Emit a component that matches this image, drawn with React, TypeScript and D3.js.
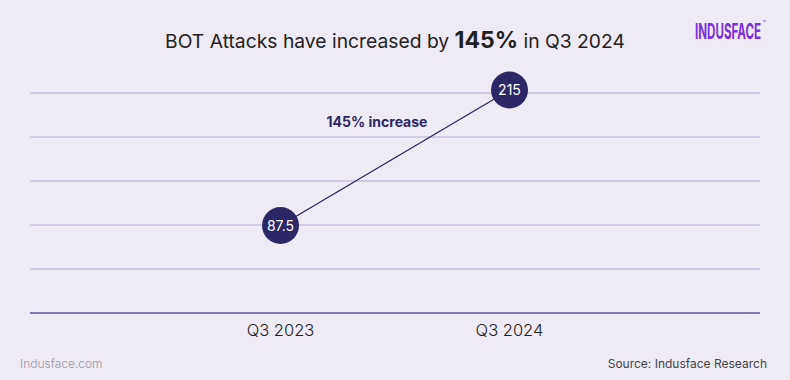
import React from "react";
import * as d3 from "d3";

const categories = ["Q3 2023", "Q3 2024"];
const values = [87.5, 215];
const valueLabels = ["87.5", "215"];
const gridCount = 5;

const W = 790;
const H = 380;
const BG = "#efebf5";
const NAVY = "#2c2766";

export default function App() {
  const left = 30;
  const right = 760;
  const axisY = 313;
  const x = d3.scalePoint<string>().domain(categories).range([left, right]).padding(1.094);
  const y = d3.scaleLinear().domain([87.5, 215]).range([225.5, 90]);
  const gridStep = 44;
  const grid = d3.range(1, gridCount + 1).map((i) => axisY - i * gridStep);
  const line = d3
    .line<number>()
    .x((_, i) => x(categories[i]) as number)
    .y((d) => y(d));
  const logoScale = 0.6;

  return (
    <svg
      width={W}
      height={H}
      style={{ position: "absolute", left: 0, top: 0, background: BG, fontFamily: "Inter, sans-serif" }}
    >
      <rect width={W} height={H} fill={BG} />
      <text x={395} y={48} textAnchor="middle" fontSize={19.3} fill="#222">
        <tspan>BOT Attacks have increased by </tspan>
        <tspan fontWeight={700} fontSize={23}>145%</tspan>
        <tspan> in Q3 2024</tspan>
      </text>
      <g transform={`translate(695,38.5) scale(${logoScale},1)`}>
        <text x={0} y={0} fontSize={21} fontWeight={700} fill="#7b2fe0">
          <tspan textLength={66 / logoScale} lengthAdjust="spacingAndGlyphs">INDUSFACE</tspan>
          <tspan fontSize={8} fontWeight={400} dx={3} dy={-13}>™</tspan>
        </text>
      </g>
      {grid.map((gy, i) => (
        <line key={i} x1={left} x2={right} y1={gy} y2={gy} stroke="#c8bfdf" strokeWidth={1.3} />
      ))}
      <line x1={left} x2={right} y1={axisY} y2={axisY} stroke="#5b5499" strokeWidth={1.5} />
      {categories.map((c) => (
        <text key={c} x={x(c)} y={336} textAnchor="middle" fontSize={16.5} fontWeight={300} fill="#222">
          {c}
        </text>
      ))}
      <path d={line(values) || ""} fill="none" stroke={NAVY} strokeWidth={1.3} />
      <text x={377} y={127} textAnchor="middle" fontSize={14} fontWeight={700} fill={NAVY}>
        145% increase
      </text>
      {values.map((v, i) => (
        <g key={i}>
          <circle cx={x(categories[i])} cy={y(v)} r={18.5} fill={NAVY} />
          <text
            x={x(categories[i])}
            y={y(v) + 5}
            textAnchor="middle"
            fontSize={14}
            fill="#fff"
          >
            {valueLabels[i]}
          </text>
        </g>
      ))}
      <text x={20} y={368} fontSize={12} fontWeight={300} fill="#9a96a3">
        Indusface.com
      </text>
      <text x={767} y={368} textAnchor="end" fontSize={12} fill="#444">
        Source: Indusface Research
      </text>
    </svg>
  );
}
